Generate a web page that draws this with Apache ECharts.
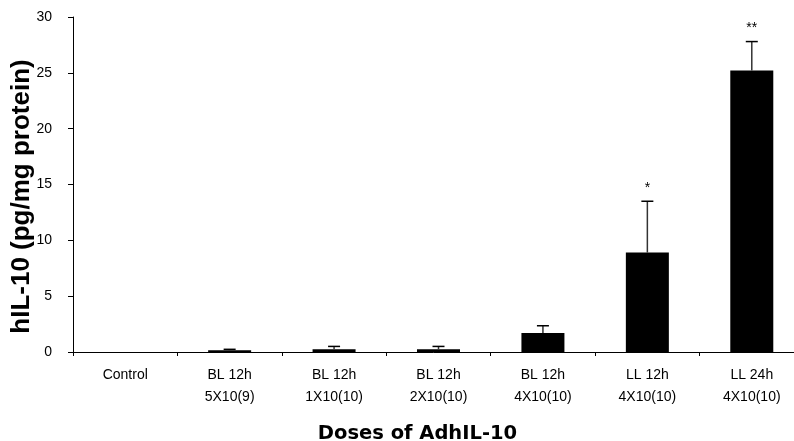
<!DOCTYPE html>
<html><head><meta charset="utf-8">
<script src="https://cdn.jsdelivr.net/npm/echarts@6/dist/echarts.min.js"></script>
<style>html,body{margin:0;padding:0;background:#fff}#c{width:794px;height:441px}</style>
</head><body><div id="c"></div>
<script>
var catLine1 = ['Control', 'BL 12h', 'BL 12h', 'BL 12h', 'BL 12h', 'LL 12h', 'LL 24h'];
var catLine2 = ['', '5X10(9)', '1X10(10)', '2X10(10)', '4X10(10)', '4X10(10)', '4X10(10)'];
var means = [0, 0.15, 0.25, 0.25, 1.7, 8.9, 25.2];
var errUpper = [0, 0.24, 0.5, 0.5, 2.35, 13.5, 27.8];
var marks = ['', '', '', '', '', '*', '**'];
var yTicks = [0, 5, 10, 15, 20, 25, 30];

var labels = catLine1.map(function(a, i){ return a + '\n' + catLine2[i]; });
var chart = echarts.init(document.getElementById('c'));
chart.setOption({
  animation: false,
  grid: {left: 73, right: -10, top: 17, bottom: 89, containLabel: false, outerBoundsMode: 'none'},
  xAxis: {
    type: 'category', data: labels,
    axisLine: {lineStyle: {color: '#000', width: 1}},
    axisTick: {show: true, alignWithLabel: false, length: 4, lineStyle: {color: '#000'}},
    axisLabel: {color: '#000', fontFamily: 'Liberation Sans', fontSize: 14, lineHeight: 22, margin: 12, interval: 0},
    name: 'Doses of AdhIL-10', nameLocation: 'middle', nameGap: 72,
    nameTextStyle: {color: '#000', fontFamily: 'DejaVu Sans', fontSize: 19.5, fontWeight: 'bold', padding: [0, 0, 0, -42]}
  },
  yAxis: {
    type: 'value', min: yTicks[0], max: yTicks[yTicks.length-1], interval: 5,
    splitLine: {show: false},
    axisLine: {show: true, lineStyle: {color: '#000', width: 1}},
    axisTick: {show: true, length: 5, lineStyle: {color: '#000'}},
    axisLabel: {color: '#000', fontFamily: 'Liberation Sans', fontSize: 14, margin: 21},
    name: 'hIL-10 (pg/mg protein)', nameLocation: 'middle', nameGap: 38, nameMoveOverlap: false,
    nameTextStyle: {color: '#000', fontFamily: 'Liberation Sans', fontSize: 26, fontWeight: 'bold', padding: [0, 24, 0, 0]}
  },
  series: [
    {type: 'bar', data: means, barWidth: 43, itemStyle: {color: '#000'}, z: 2},
    {
      type: 'custom', z: 3,
      data: means.map(function(m, i){ return [i, m, errUpper[i]]; }),
      renderItem: function(params, api){
        var i = api.value(0), m = api.value(1), u = api.value(2);
        var p0 = api.coord([i, m]), p1 = api.coord([i, u]);
        var children = [];
        if (u > m) {
          children.push({type: 'line', shape: {x1: p0[0], y1: p0[1], x2: p1[0], y2: p1[1]}, style: {stroke: '#333', lineWidth: 1.5}});
          children.push({type: 'line', shape: {x1: p1[0]-6, y1: p1[1], x2: p1[0]+6, y2: p1[1]}, style: {stroke: '#000', lineWidth: 1.5}});
        }
        var mk = marks[params.dataIndex];
        if (mk) {
          children.push({type: 'text', style: {text: mk, x: p1[0], y: p1[1]-6, align: 'center', verticalAlign: 'bottom', fill: '#000', font: '14px "Liberation Sans"'}});
        }
        return {type: 'group', children: children};
      }
    }
  ]
});
</script>
</body></html>
